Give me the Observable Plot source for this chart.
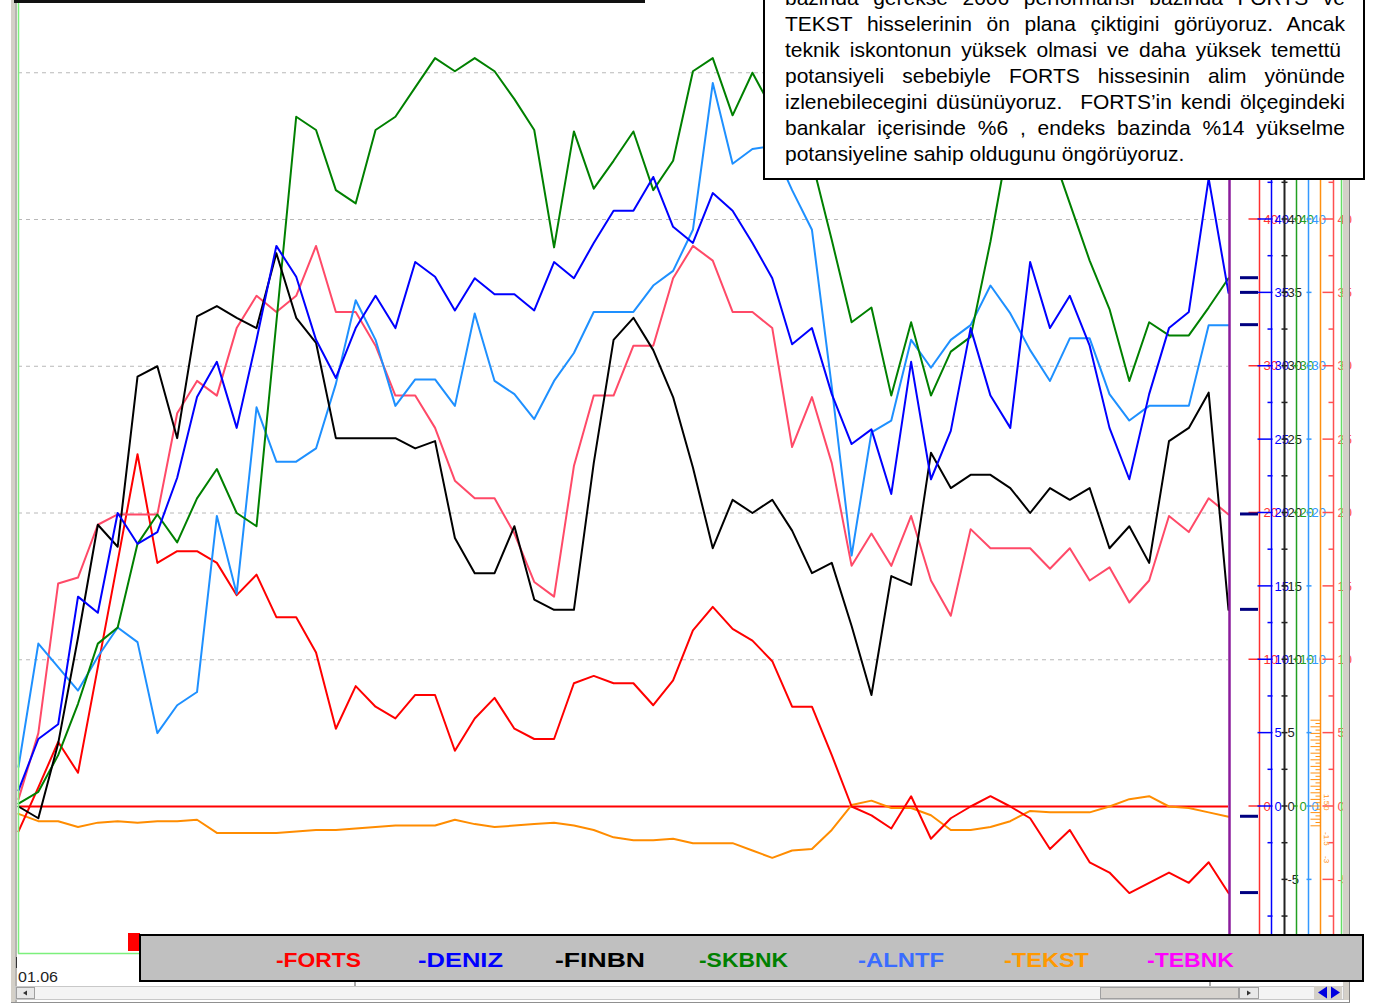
<!DOCTYPE html>
<html>
<head>
<meta charset="utf-8">
<script src="https://cdn.jsdelivr.net/npm/d3@7"></script>
<script src="https://cdn.jsdelivr.net/npm/@observablehq/plot@0.6"></script>
<style>
html,body{margin:0;padding:0;background:#fff;overflow:hidden;}
#chart svg{display:block;}
</style>
</head>
<body>
<div id="chart"></div>
<script>
// ---------- data ----------
const steps = d3.range(62);            // trading sessions, first one labelled 01.06
const firstDateLabel = "01.06";
const forts = [-1.7,1.3,4.4,2.3,9.5,16.7,24.0,16.6,17.4,17.4,16.6,14.4,15.8,12.9,12.9,10.5,5.3,8.2,6.8,6.0,7.6,7.6,3.8,6.0,7.4,5.3,4.6,4.6,8.4,8.9,8.4,8.4,6.9,8.6,12.0,13.6,12.1,11.3,9.9,6.8,6.8,3.5,0,-0.6,-1.5,0.7,-2.2,-0.8,0,0.7,0,-0.8,-2.9,-1.6,-3.8,-4.5,-5.9,-5.2,-4.5,-5.2,-3.8,-5.9];
const deniz = [1.1,4.6,5.6,14.3,13.2,20.0,17.9,18.7,22.4,27.9,30.3,25.8,31.8,38.2,36.1,31.8,29.2,32.6,34.8,32.6,37.1,36.1,33.8,36.0,34.9,34.9,33.8,37.1,36.0,38.4,40.6,40.6,42.9,39.5,38.4,41.8,40.6,38.4,36.0,31.5,32.6,28.1,24.7,25.7,21.3,30.3,22.3,25.6,32.6,28.0,25.8,37.1,32.6,34.8,31.4,25.8,22.3,28.1,32.6,33.7,42.8,35.0];
const finbn = [0,-0.8,4.3,11.5,19.2,17.7,29.3,30.0,25.1,33.4,34.1,33.3,32.6,37.7,33.3,31.6,25.1,25.1,25.1,25.1,24.4,24.9,18.3,15.9,15.9,19.1,14.1,13.4,13.4,23.4,31.8,33.3,31.1,27.9,23.1,17.6,20.9,20.0,20.9,18.8,15.9,16.6,12.3,7.6,15.7,15.1,24.1,21.7,22.6,22.6,21.7,20.0,21.7,20.9,21.7,17.6,19.1,16.6,24.9,25.8,28.2,13.4];
const skbnk = [0.2,1.0,3.5,7.0,11.1,12.2,17.9,19.9,18.0,21.0,23.0,20.0,19.1,33.0,47.0,46.1,42.0,41.1,46.1,47.0,49.0,51.0,50.1,51.0,50.1,48.2,46.1,38.1,46.0,42.1,44.0,46.0,42.0,44.0,50.1,51.0,47.1,50.0,47.5,46.5,44.0,38.6,33.0,34.0,28.0,33.0,28.0,31.0,32.0,38.5,46.0,47.0,45.0,41.1,37.2,33.9,29.0,33.0,32.1,32.1,34.0,36.0];
const alntf = [2.7,11.1,9.5,7.9,10.2,12.2,11.2,5.0,6.9,7.8,19.8,14.5,27.2,23.5,23.5,24.4,28.8,34.5,31.8,27.3,29.1,29.1,27.3,33.6,29.0,28.1,26.4,29.0,30.9,33.7,33.7,33.7,35.5,36.5,39.3,49.3,43.8,44.8,45.0,42.0,39.3,28.6,17.1,25.5,26.3,31.8,29.9,31.8,32.8,35.5,33.6,31.1,29.0,31.9,31.9,28.1,26.3,27.3,27.3,27.3,32.8,32.8];
const tekst = [-0.5,-1.0,-1.0,-1.4,-1.1,-1.0,-1.1,-1.0,-1.0,-0.9,-1.8,-1.8,-1.8,-1.8,-1.7,-1.6,-1.6,-1.5,-1.4,-1.3,-1.3,-1.3,-0.9,-1.2,-1.4,-1.3,-1.2,-1.1,-1.3,-1.6,-2.1,-2.3,-2.3,-2.2,-2.5,-2.5,-2.5,-3.0,-3.5,-3.0,-2.9,-1.6,0.1,0.4,-0.1,-0.1,-0.6,-1.6,-1.6,-1.4,-1.0,-0.3,-0.4,-0.4,-0.4,0.0,0.5,0.7,0.0,-0.1,-0.4,-0.7];
const tebnk = [0.5,5.0,15.2,15.6,19.2,19.9,19.9,19.9,26.8,29.0,28.0,32.6,34.8,33.7,34.8,38.2,33.7,33.7,31.4,28.0,28.0,25.8,22.2,21.0,21.0,18.6,15.3,14.3,23.2,28.0,28.0,31.4,31.4,36.0,38.2,37.2,33.7,33.7,32.6,24.5,27.9,23.4,16.4,18.6,16.4,19.8,15.4,13.0,18.9,17.6,17.6,17.6,16.2,17.6,15.4,16.3,13.9,15.4,19.8,18.7,21.0,19.9];

const names = ["FORTS","DENIZ","FINBN","SKBNK","ALNTF","TEKST","TEBNK"];
const legendColors = ["#ff0000","#0000ff","#000000","#008000","#3a6cff","#ff9900","#ff00ff"];
const lineColors = ["#ff0000","#0000ff","#000000","#008000","#1e90ff","#ff8c00","#ff4a68"];
const gridLevels = [10,20,30,40,50];
const noteLines = [
  "bazinda  gerekse  2006  performansi  bazinda  FORTS  ve",
  "TEKST  hisselerinin  ön  plana  çiktigini  görüyoruz.  Ancak",
  "teknik iskontonun yüksek olmasi ve daha yüksek temettü",
  "potansiyeli  sebebiyle  FORTS  hissesinin  alim  yönünde",
  "izlenebilecegini düsünüyoruz.  FORTS’in kendi ölçegindeki",
  "bankalar içerisinde %6 , endeks bazinda %14 yükselme",
  "potansiyeline sahip oldugunu öngörüyoruz."
];

// ---------- chart ----------
const seriesValues = [forts, deniz, finbn, skbnk, alntf, tekst, tebnk];
const drawOrder = [5, 0, 6, 4, 3, 2, 1];
const W = 1377, H = 1005;

const plot = Plot.plot({
  width: W, height: H,
  marginLeft: 18, marginRight: 149, marginTop: 13.55, marginBottom: 81.6,
  x: {domain: [0, 61], axis: null},
  y: {domain: [-8, 54], axis: null},
  style: {background: "#ffffff", overflow: "visible"},
  marks: [
    Plot.ruleY(gridLevels, {stroke: "#b8b8b8", strokeWidth: 1, strokeDasharray: "4,4"}),
    Plot.ruleY([0], {stroke: "#ff0000", strokeWidth: 2}),
    ...drawOrder.map(k => Plot.line(steps, {x: i => i, y: i => seriesValues[k][i], stroke: lineColors[k], strokeWidth: 2}))
  ]
});
document.getElementById("chart").append(plot);

const svg = d3.select(plot);
const ys = v => plot.scale("y").apply(v);
const FONT = "'Liberation Sans', Arial, sans-serif";

// ---------- right-hand multi axes ----------
const g = svg.append("g").attr("text-anchor", "start");
const tens = [0, 10, 20, 30, 40];
const fives = [-5, 0, 5, 10, 15, 20, 25, 30, 35, 40, 45, 50];
const halfs = d3.range(-7.5, 50, 5);
const axes = [
  {x: 1259.5, color: "#ff3030", ticks: tens, t0: -11, t1: 1, labels: tens, lx: 4},
  {x: 1271.5, color: "#0000ff", ticks: fives.filter(v => v >= 0), t0: -14, t1: 1, minor: halfs, m0: -4, m1: 1, labels: fives.filter(v => v >= 0 && v <= 40), lx: 3},
  {x: 1284.5, color: "#222222", ticks: fives, t0: -3, t1: 3, minor: halfs, m0: -3, m1: 3, labels: fives.filter(v => v <= 40), lx: 3},
  {x: 1296.5, color: "#22a022", ticks: tens, t0: -3, t1: 1, labels: tens, lx: 3},
  {x: 1308.5, color: "#3399ff", ticks: fives, t0: -2, t1: 3, labels: tens, lx: 3},
  {x: 1320.5, color: "#ff9010", ticks: [], t0: 0, t1: 0, labels: []},
  {x: 1333.5, color: "#ff5050", ticks: fives, t0: -11, t1: 0, minor: halfs, m0: -5, m1: 0, labels: fives.filter(v => v <= 40), lx: 4},
  {x: 1341.5, color: "#66dd66", ticks: [], t0: 0, t1: 0, labels: []}
];
axes.forEach(a => {
  g.append("line").attr("x1", a.x).attr("x2", a.x).attr("y1", 0).attr("y2", 955)
    .attr("stroke", a.color).attr("stroke-width", a.color === "#222222" ? 2 : 1.5);
  a.ticks.forEach(v => g.append("line").attr("x1", a.x + a.t0).attr("x2", a.x + a.t1)
    .attr("y1", ys(v)).attr("y2", ys(v)).attr("stroke", a.color).attr("stroke-width", 1.5));
  (a.minor || []).forEach(v => g.append("line").attr("x1", a.x + a.m0).attr("x2", a.x + a.m1)
    .attr("y1", ys(v)).attr("y2", ys(v)).attr("stroke", a.color).attr("stroke-width", 1.5));
  a.labels.forEach(v => g.append("text").attr("x", a.x + a.lx).attr("y", ys(v))
    .attr("dy", "0.36em").attr("fill", a.color).attr("font-family", FONT).attr("font-size", 13)
    .text(String(v)));
});
// compressed orange scale near zero
const orangeAxis = axes[5];
d3.range(-26, 7).forEach(k => {
  const yy = ys(0) + k * 3.3;
  g.append("line").attr("x1", orangeAxis.x - (k % 2 ? 5 : 10)).attr("x2", orangeAxis.x)
    .attr("y1", yy).attr("y2", yy).attr("stroke", orangeAxis.color).attr("stroke-width", 1);
});
[["1.5", -12], ["0", 0], ["-1.5", 26], ["-3", 50]].forEach(([t, dy]) => {
  g.append("text").attr("transform", `translate(${orangeAxis.x + 3},${ys(0) + dy}) rotate(90)`)
    .attr("fill", orangeAxis.color).attr("font-family", FONT).attr("font-size", 8).text(t);
});

// current-bar marker and last-value markers
g.append("line").attr("x1", 1229.5).attr("x2", 1229.5).attr("y1", 0).attr("y2", 935)
  .attr("stroke", "#8b1c9c").attr("stroke-width", 2.5);
seriesValues.forEach(vals => {
  const yy = ys(vals[vals.length - 1]);
  g.append("line").attr("x1", 1240).attr("x2", 1258).attr("y1", yy).attr("y2", yy)
    .attr("stroke", "#000080").attr("stroke-width", 3);
});

// ---------- window frame ----------
const f = svg.append("g").attr("text-anchor", "start");
f.append("rect").attr("x", 1343).attr("y", 0).attr("width", 7).attr("height", 1000).attr("fill", "#d4d0c8");
f.append("line").attr("x1", 1349.5).attr("x2", 1349.5).attr("y1", 0).attr("y2", 1002).attr("stroke", "#808080");
f.append("rect").attr("x", 11).attr("y", 0).attr("width", 6).attr("height", 1003).attr("fill", "#d4d0c8");
f.append("line").attr("x1", 16).attr("x2", 16).attr("y1", 0).attr("y2", 1003).attr("stroke", "#9a9a9a");
f.append("line").attr("x1", 18.5).attr("x2", 18.5).attr("y1", 0).attr("y2", 953.5).attr("stroke", "#7cf07c").attr("stroke-width", 1.5);
f.append("line").attr("x1", 18).attr("x2", 1342).attr("y1", 953.5).attr("y2", 953.5).attr("stroke", "#7cf07c").attr("stroke-width", 1.5);
f.append("rect").attr("x", 14).attr("y", 0).attr("width", 631).attr("height", 3).attr("fill", "#111");
f.append("rect").attr("x", 128).attr("y", 933).attr("width", 12).attr("height", 18).attr("fill", "#ff0000");
// bottom time axis
f.append("line").attr("x1", 16.5).attr("x2", 16.5).attr("y1", 957).attr("y2", 968).attr("stroke", "#333");
f.append("text").attr("x", 18).attr("y", 982).attr("font-family", FONT).attr("font-size", 14).attr("fill", "#222")
  .attr("textLength", 40).attr("lengthAdjust", "spacingAndGlyphs").text(firstDateLabel);
[355, 1210].forEach(xx => f.append("line").attr("x1", xx).attr("x2", xx).attr("y1", 982).attr("y2", 988).attr("stroke", "#555"));
// scrollbar
f.append("rect").attr("x", 15.5).attr("y", 986.5).attr("width", 1328).attr("height", 13).attr("fill", "#f4f4f4").attr("stroke", "#c8c8c8");
f.append("rect").attr("x", 16.5).attr("y", 987.5).attr("width", 18).attr("height", 11).attr("fill", "#e8e8e8").attr("stroke", "#a0a0a0");
f.append("path").attr("d", "M23,993 L27,990.5 L27,995.5 Z").attr("fill", "#333");
f.append("rect").attr("x", 1100.5).attr("y", 987.5).attr("width", 138).attr("height", 11).attr("fill", "#d6d3ce").attr("stroke", "#a0a0a0");
f.append("rect").attr("x", 1239.5).attr("y", 987.5).attr("width", 19).attr("height", 11).attr("fill", "#e8e8e8").attr("stroke", "#a0a0a0");
f.append("path").attr("d", "M1251,993 L1247,990.5 L1247,995.5 Z").attr("fill", "#333");
f.append("rect").attr("x", 1314).attr("y", 986).attr("width", 28).attr("height", 13).attr("fill", "#d4d0c8");
f.append("path").attr("d", "M1318,992.5 L1327,986.5 L1327,998.5 Z").attr("fill", "#0000e0");
f.append("path").attr("d", "M1340,992.5 L1331,986.5 L1331,998.5 Z").attr("fill", "#0000e0");
f.append("line").attr("x1", 11).attr("x2", 1350).attr("y1", 1002.5).attr("y2", 1002.5).attr("stroke", "#909090");

// ---------- commentary box ----------
const nb = svg.append("g").attr("text-anchor", "start");
nb.append("rect").attr("x", 764).attr("y", -10).attr("width", 600).attr("height", 189)
  .attr("fill", "#fff").attr("stroke", "#000").attr("stroke-width", 2);
noteLines.forEach((s, i) => {
  const t = nb.append("text").attr("x", 785).attr("y", 5 + 26 * i)
    .attr("font-family", FONT).attr("font-size", 21).attr("fill", "#000")
    .style("white-space", "pre").text(s);
  if (i < noteLines.length - 1) {
    const target = i === 2 ? 556 : 560;
    const nat = t.node().getComputedTextLength();
    const spaces = (s.match(/ /g) || []).length;
    if (spaces) t.style("word-spacing", ((target - nat) / spaces) + "px");
  }
});

// ---------- legend ----------
const lg = svg.append("g").attr("text-anchor", "start");
lg.append("rect").attr("x", 140).attr("y", 935).attr("width", 1223).attr("height", 46)
  .attr("fill", "#c0c0c0").attr("stroke", "#000").attr("stroke-width", 2);
const legendX = [276, 418, 555, 699, 858, 1004, 1147];
const legendW = [85, 85, 90, 89, 86, 85, 87];
names.forEach((n, i) => {
  lg.append("text").attr("x", legendX[i]).attr("y", 967)
    .attr("font-family", FONT).attr("font-size", 21).attr("font-weight", "bold")
    .attr("fill", legendColors[i]).attr("textLength", legendW[i]).attr("lengthAdjust", "spacingAndGlyphs")
    .text("-" + n);
});
</script>
</body>
</html>
